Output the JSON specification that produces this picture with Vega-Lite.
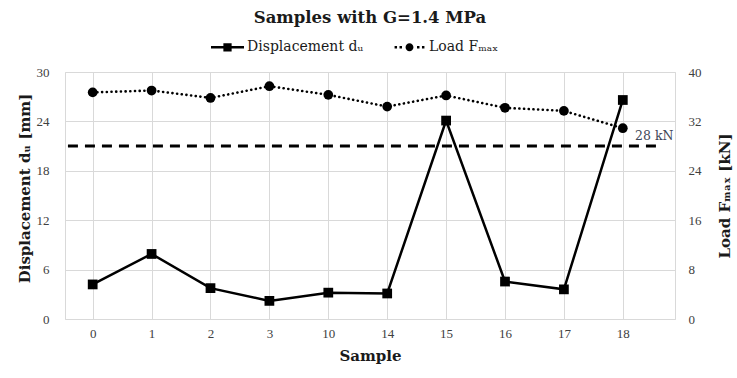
{
  "$schema": "https://vega.github.io/schema/vega-lite/v6.json",
  "width": 610,
  "height": 247,
  "autosize": "none",
  "padding": {"left": 65, "top": 72, "right": 62, "bottom": 59},
  "background": "white",
  "title": {
    "text": "Samples with G=1.4 MPa",
    "font": "DejaVu Serif",
    "fontSize": 16.5,
    "fontWeight": "bold",
    "color": "#1a1a1a",
    "anchor": "middle",
    "offset": 4
  },
  "data": {
    "values": [
      {"idx": 0, "sample": "0", "disp": 4.2, "load": 36.7},
      {"idx": 1, "sample": "1", "disp": 7.9, "load": 37.0},
      {"idx": 2, "sample": "2", "disp": 3.75, "load": 35.8},
      {"idx": 3, "sample": "3", "disp": 2.2, "load": 37.7},
      {"idx": 4, "sample": "10", "disp": 3.2, "load": 36.3},
      {"idx": 5, "sample": "14", "disp": 3.1, "load": 34.4},
      {"idx": 6, "sample": "15", "disp": 24.1, "load": 36.2},
      {"idx": 7, "sample": "16", "disp": 4.55, "load": 34.2},
      {"idx": 8, "sample": "17", "disp": 3.6, "load": 33.7},
      {"idx": 9, "sample": "18", "disp": 26.6, "load": 30.9}
    ]
  },
  "encoding": {
    "x": {
      "field": "idx",
      "type": "quantitative",
      "scale": {"domain": [-0.47, 9.886], "nice": false, "zero": false},
      "axis": {
        "values": [0, 1, 2, 3, 4, 5, 6, 7, 8, 9],
        "labelExpr": "['0','1','2','3','10','14','15','16','17','18'][datum.value]",
        "title": "Sample",
        "grid": true,
        "gridColor": "#d9d9d9",
        "gridWidth": 1,
        "domain": false,
        "ticks": false,
        "labelFont": "Liberation Serif",
        "labelFontSize": 13,
        "labelColor": "#404040",
        "labelPadding": 8,
        "titleFont": "DejaVu Serif",
        "titleFontSize": 15,
        "titleFontWeight": "bold",
        "titleColor": "#1a1a1a",
        "titlePadding": 8
      }
    }
  },
  "layer": [
    {
      "encoding": {
        "y": {
          "field": "disp",
          "type": "quantitative",
          "scale": {"domain": [0, 30], "nice": false},
          "axis": {
            "orient": "left",
            "values": [0, 6, 12, 18, 24, 30],
            "title": "Displacement dᵤ [mm]",
            "grid": true,
            "gridColor": "#d9d9d9",
            "gridWidth": 1,
            "domain": false,
            "ticks": false,
            "labelFont": "Liberation Serif",
            "labelFontSize": 13,
            "labelColor": "#404040",
            "labelPadding": 16,
            "titleFont": "DejaVu Serif",
            "titleFontSize": 15,
            "titleFontWeight": "bold",
            "titleColor": "#1a1a1a",
            "titlePadding": 4,
            "titleY": 116
          }
        }
      },
      "layer": [
        {
          "mark": {"type": "line", "color": "black", "strokeWidth": 2.5}
        },
        {
          "mark": {"type": "point", "shape": "square", "filled": true, "color": "black", "size": 95, "opacity": 1}
        },
        {
          "data": {"values": []},
          "mark": {"type": "point", "filled": true, "color": "black", "opacity": 1, "strokeWidth": 0},
          "encoding": {
            "shape": {
              "datum": "Displacement dᵤ",
              "type": "nominal",
              "scale": {
                "domain": ["Displacement dᵤ", "Load Fₘₐₓ"],
                "range": [
                  "M-1,-0.075H1V0.075H-1Z M-0.25,-0.25H0.25V0.25H-0.25Z",
                  "M-0.905,-0.075h0.15v0.15h-0.15Z M-0.605,-0.075h0.15v0.15h-0.15Z M0.455,-0.075h0.15v0.15h-0.15Z M0.755,-0.075h0.15v0.15h-0.15Z M-0.24,0A0.24,0.24 0 1,1 0.24,0A0.24,0.24 0 1,1 -0.24,0Z"
                ]
              },
              "legend": {
                "title": null,
                "orient": "none",
                "legendX": 146,
                "legendY": -41.5,
                "direction": "horizontal",
                "symbolSize": 1089,
                "symbolStrokeWidth": 0,
                "symbolFillColor": "black",
                "symbolOpacity": 1,
                "labelFont": "DejaVu Serif",
                "labelFontSize": 14,
                "labelColor": "#1a1a1a",
                "labelOffset": 3,
                "columnPadding": 30
              }
            }
          }
        }
      ]
    },
    {
      "encoding": {
        "y": {
          "field": "load",
          "type": "quantitative",
          "scale": {"domain": [0, 40], "nice": false},
          "axis": {
            "orient": "right",
            "values": [0, 8, 16, 24, 32, 40],
            "title": "Load Fₘₐₓ [kN]",
            "grid": false,
            "domain": false,
            "ticks": false,
            "labelFont": "Liberation Serif",
            "labelFontSize": 13,
            "labelColor": "#404040",
            "labelPadding": 13,
            "titleFont": "DejaVu Serif",
            "titleFontSize": 15,
            "titleFontWeight": "bold",
            "titleColor": "#1a1a1a",
            "titleAngle": 270,
            "titleBaseline": "top",
            "titlePadding": 16
          }
        }
      },
      "layer": [
        {
          "mark": {"type": "line", "color": "black", "strokeWidth": 2.6, "strokeDash": [0.1, 4.6], "strokeCap": "round"}
        },
        {
          "mark": {"type": "point", "shape": "circle", "filled": true, "color": "black", "size": 95, "opacity": 1}
        },
        {
          "data": {"values": [{"xs": -0.42, "xe": 9.68, "lim": 28}]},
          "mark": {"type": "rule", "color": "black", "strokeWidth": 3, "strokeDash": [10, 7]},
          "encoding": {
            "x": {"field": "xs", "type": "quantitative"},
            "x2": {"field": "xe"},
            "y": {"field": "lim", "type": "quantitative"}
          }
        },
        {
          "data": {"values": [{"xt": 9.207, "lim": 28, "label": "28 kN"}]},
          "mark": {"type": "text", "align": "left", "baseline": "middle", "dy": -10, "font": "DejaVu Serif", "fontSize": 12.5, "color": "#3d4656"},
          "encoding": {
            "x": {"field": "xt", "type": "quantitative"},
            "y": {"field": "lim", "type": "quantitative"},
            "text": {"field": "label"}
          }
        }
      ]
    }
  ],
  "resolve": {"scale": {"y": "independent"}},
  "config": {
    "view": {"stroke": "#d9d9d9"}
  }
}
